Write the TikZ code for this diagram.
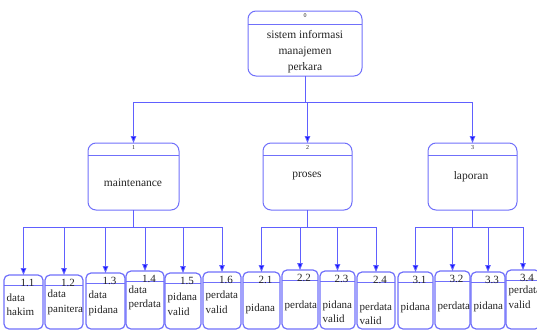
\documentclass[tikz,border=0pt]{standalone}
\usepackage{fontspec}
\setmainfont{Liberation Serif}
\usetikzlibrary{arrows.meta}
\definecolor{boxcol}{RGB}{112,112,250}
\definecolor{wirecol}{RGB}{96,96,255}
\definecolor{tipcol}{RGB}{20,20,255}
\definecolor{inkcol}{RGB}{35,35,35}
\tikzset{
  procbox/.style={draw=boxcol, line width=1pt, rounded corners=8pt, inner sep=0pt, outer sep=0pt, anchor=north west},
  leafbox/.style={draw=boxcol, line width=1.2pt, rounded corners=5pt, inner sep=0pt, outer sep=0pt, anchor=north west},
  divider/.style={draw=boxcol, line width=1pt},
  wire/.style={draw=wirecol, line width=0.9pt},
  feed/.style={wire, -{Triangle[length=7pt,width=5.5pt,fill=tipcol]}},
  tinynum/.style={font=\fontsize{6}{7}\selectfont, text=inkcol, inner sep=0pt},
  leafnum/.style={font=\fontsize{11}{12}\selectfont, text=inkcol, inner sep=0pt},
  proctext/.style={font=\fontsize{11.5}{16}\selectfont, text=inkcol, align=center, inner sep=0pt},
  leaftext/.style={font=\fontsize{11}{14.5}\selectfont, text=inkcol, align=left, inner sep=0pt, anchor=west},
}
% leaf process: name, left, top, width, number, label, label centre y
\newcommand\leafproc[7]{%
  \node[leafbox, minimum width=#4pt, minimum height={329-#3}] (#1) at (#2,#3) {};
  \draw[divider] ([yshift=-10pt]#1.north west) -- ([yshift=-10pt]#1.north east);
  \node[leafnum] (#1n) at ([xshift=4pt,yshift=-8pt]#1.north) {#5};
  \node[leaftext] (#1t) at (#2+2.5,#7) {#6};
}
\begin{document}
\begin{tikzpicture}[x=1pt,y=-1pt]
\useasboundingbox (0,0) rectangle (537,332);

% context process
\node[procbox, minimum width=114pt, minimum height=65pt] (p0) at (248,11) {};
\draw[divider] ([yshift=-13pt]p0.north west) -- ([yshift=-13pt]p0.north east);
\node[tinynum] (p0n) at ([yshift=-5pt]p0.north) {0};
\node[proctext] (p0t) at (305,52) {sistem informasi\\manajemen\\perkara};

% level 1 processes
\node[procbox, minimum width=91pt, minimum height=67pt] (p1) at (88,143) {};
\node[procbox, minimum width=89pt, minimum height=67pt] (p2) at (263,143) {};
\node[procbox, minimum width=89pt, minimum height=67pt] (p3) at (428,143) {};
\foreach \p/\n in {p1/1,p2/2,p3/3}{
  \draw[divider] ([yshift=-12pt]\p.north west) -- ([yshift=-12pt]\p.north east);
  \node[tinynum] (\p n) at ([yshift=-5pt]\p.north) {\n};
}
\node[proctext] (p1t) at (133,183) {maintenance};
\node[proctext] (p2t) at (307,176) {proses};
\node[proctext] (p3t) at (471,177) {laporan};

% level 2 processes
\leafproc{q11}{4}{275}{39}{1.1}{data\\hakim}{304.5}
\leafproc{q12}{45}{275}{38}{1.2}{data\\panitera}{302.5}
\leafproc{q13}{86}{273}{39}{1.3}{data\\pidana}{303.5}
\leafproc{q14}{126}{271}{38}{1.4}{data\\perdata}{298}
\leafproc{q15}{165}{273}{36}{1.5}{pidana\\valid}{304}
\leafproc{q16}{203}{272}{38}{1.6}{perdata\\valid}{302}
\leafproc{q21}{243}{272}{37}{2.1}{pidana}{309}
\leafproc{q22}{282}{270}{36}{2.2}{perdata}{306}
\leafproc{q23}{320}{271}{35}{2.3}{pidana\\valid}{311.5}
\leafproc{q24}{357}{272}{38}{2.4}{perdata\\valid}{313.5}
\leafproc{q31}{398}{272}{35}{3.1}{pidana}{308}
\leafproc{q32}{435}{271}{35}{3.2}{perdata}{307}
\leafproc{q33}{471}{272}{34}{3.3}{pidana}{307}
\leafproc{q34}{506}{270}{34}{3.4}{perdata\\valid}{297}

% buses
\coordinate (bus0) at (0,102);
\coordinate (bus1) at (0,227);

\draw[wire] (p0.south) -- (p0.south |- bus0);
\draw[wire] (p1.north |- bus0) -- (p3.north |- bus0);
\foreach \p in {p1,p2,p3} \draw[feed] (\p.north |- bus0) -- (\p.north);

\draw[wire] (p1.south) -- (p1.south |- bus1);
\draw[wire] (q11.north |- bus1) -- (q16.north |- bus1);
\foreach \q in {q11,q12,q13,q14,q15,q16} \draw[feed] (\q.north |- bus1) -- (\q.north);

\draw[wire] (p2.south) -- (p2.south |- bus1);
\draw[wire] (q21.north |- bus1) -- (q24.north |- bus1);
\foreach \q in {q21,q22,q23,q24} \draw[feed] (\q.north |- bus1) -- (\q.north);

\draw[wire] (p3.south) -- (p3.south |- bus1);
\draw[wire] (q31.north |- bus1) -- (q34.north |- bus1);
\foreach \q in {q31,q32,q33,q34} \draw[feed] (\q.north |- bus1) -- (\q.north);
\end{tikzpicture}
\end{document}
